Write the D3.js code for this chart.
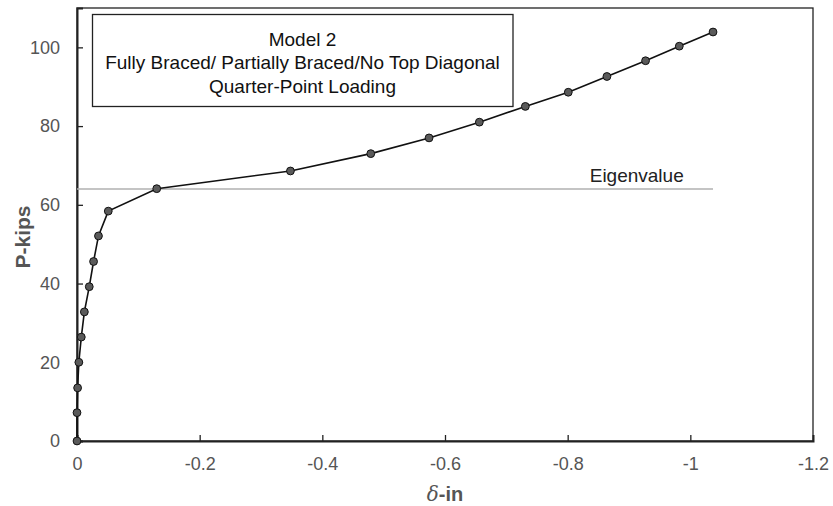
<!DOCTYPE html>
<html>
<head>
<meta charset="utf-8">
<script src="https://cdn.jsdelivr.net/npm/d3@7"></script>
<style>
  body { margin: 0; background: #fff; }
  text { font-family: "Liberation Sans", Arial, sans-serif; }
</style>
</head>
<body>
<div class="canvas"></div>
<script>
// deflection (in) and load (kips)
const deflection = [0, 0, -0.001, -0.003, -0.007, -0.012, -0.020, -0.027, -0.035, -0.051,
  -0.130, -0.348, -0.479, -0.574, -0.656, -0.731, -0.801, -0.864, -0.927, -0.982, -1.037]
const load = [0, 7.2, 13.5, 20.0, 26.4, 32.8, 39.2, 45.6, 52.1, 58.4,
  64.1, 68.6, 73.0, 77.0, 81.0, 85.0, 88.6, 92.6, 96.6, 100.3, 103.9]
const eigenvalue = 64
const xTicks = [0, -0.2, -0.4, -0.6, -0.8, -1, -1.2]
const yTicks = [0, 20, 40, 60, 80, 100]
const titleLines = ['Model 2', 'Fully Braced/ Partially Braced/No Top Diagonal', 'Quarter-Point Loading']

const margin = {top: 8, right: 20, bottom: 65, left: 77}
const width = 833, height = 506
const graphWidth = width - margin.left - margin.right
const graphHeight = height - margin.top - margin.bottom

const svg = d3.select('.canvas')
  .append('svg')
  .attr('width', width)
  .attr('height', height)

const graph = svg.append('g')
  .attr('transform', `translate(${margin.left}, ${margin.top})`)

const x = d3.scaleLinear().domain([0, -1.2]).range([0, graphWidth])
const y = d3.scaleLinear().domain([0, 110]).range([graphHeight, 0])

// frame
graph.append('rect')
  .attr('width', graphWidth)
  .attr('height', graphHeight)
  .attr('fill', 'none')
  .attr('stroke', '#222')
  .attr('stroke-width', 1.3)

const xAxis = d3.axisBottom(x).tickValues(xTicks).tickSize(-6).tickPadding(16)
  .tickFormat(d => String(d))
const yAxis = d3.axisLeft(y).tickValues(yTicks).tickSize(-6).tickPadding(17)

const gx = graph.append('g').attr('transform', `translate(0, ${graphHeight})`).call(xAxis)
const gy = graph.append('g').call(yAxis)

;[gx, gy].forEach(g => {
  g.select('.domain').attr('stroke', '#222').attr('stroke-width', 2)
  g.selectAll('.tick line').attr('stroke', '#222').attr('stroke-width', 1.3)
  g.selectAll('.tick text')
    .attr('fill', '#555')
    .style('font-size', '18px')
    .style('font-family', '"Liberation Sans", Arial, sans-serif')
})
gx.selectAll('.tick').filter(d => d === -1.2).select('line').remove()

// eigenvalue line
graph.append('line')
  .attr('x1', x(0))
  .attr('x2', x(d3.min(deflection)))
  .attr('y1', y(eigenvalue))
  .attr('y2', y(eigenvalue))
  .attr('stroke', '#b0b0b0')
  .attr('stroke-width', 1.5)

graph.append('text')
  .attr('x', x(-0.9126))
  .attr('y', y(eigenvalue) - 7.5)
  .attr('text-anchor', 'middle')
  .attr('fill', '#222')
  .style('font-size', '19px')
  .text('Eigenvalue')

// curve
const points = deflection.map((d, i) => ({dx: d, p: load[i]}))
const line = d3.line().x(d => x(d.dx)).y(d => y(d.p))

graph.append('path')
  .datum(points)
  .attr('d', line)
  .attr('fill', 'none')
  .attr('stroke', '#111')
  .attr('stroke-width', 1.6)

graph.selectAll('circle')
  .data(points)
  .enter()
  .append('circle')
  .attr('cx', d => x(d.dx))
  .attr('cy', d => y(d.p))
  .attr('r', 3.9)
  .attr('fill', '#5a5a5a')
  .attr('stroke', '#111')
  .attr('stroke-width', 1)

// title box
const box = svg.append('g').attr('transform', 'translate(92.5, 14.5)')
box.append('rect')
  .attr('width', 420.5)
  .attr('height', 92)
  .attr('fill', '#fff')
  .attr('stroke', '#222')
  .attr('stroke-width', 1.3)
box.selectAll('text.title')
  .data(titleLines)
  .enter()
  .append('text')
  .attr('class', 'title')
  .attr('x', 210)
  .attr('y', (d, i) => 31 + i * 23.5)
  .attr('text-anchor', 'middle')
  .attr('fill', '#111')
  .style('font-size', '19px')
  .text(d => d)

// axis titles
svg.append('text')
  .attr('x', margin.left + graphWidth / 2)
  .attr('y', 501)
  .attr('text-anchor', 'middle')
  .attr('fill', '#555')
  .style('font-size', '20px')
  .style('font-weight', 'bold')
  .call(t => {
    t.append('tspan').style('font-style', 'italic').style('font-weight', 'normal').style('font-family', '"DejaVu Serif", serif').text('δ')
    t.append('tspan').text('-in')
  })

svg.append('text')
  .attr('transform', `translate(30, 237) rotate(-90)`)
  .attr('text-anchor', 'middle')
  .attr('fill', '#555')
  .style('font-size', '21px')
  .style('font-weight', 'bold')
  .text('P-kips')
</script>
</body>
</html>
